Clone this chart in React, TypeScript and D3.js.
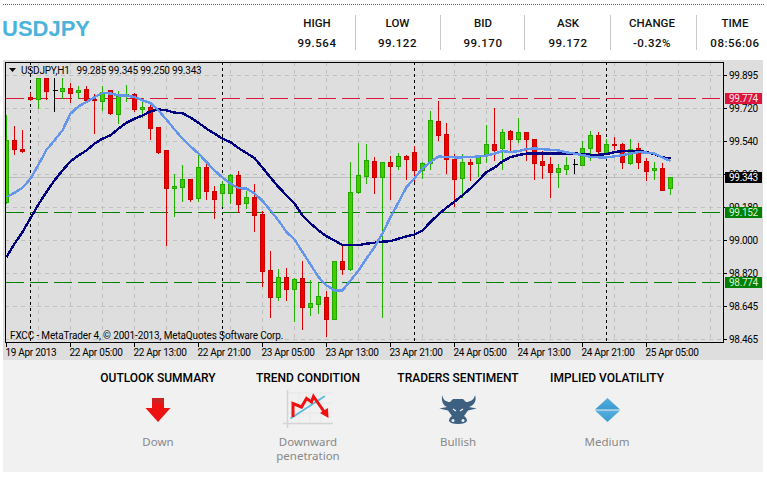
import React from "react";
import * as d3 from "d3";

const W = 767, H = 478;

const opens = [99.210,99.545,99.496,99.776,99.765,99.879,99.815,99.812,99.825,99.803,99.819,99.765,99.757,99.814,99.687,99.783,99.792,99.714,99.722,99.613,99.489,99.283,99.292,99.332,99.229,99.400,99.268,99.256,99.256,99.355,99.202,99.234,99.144,98.839,98.696,98.801,98.736,98.795,98.642,98.658,98.692,98.573,98.888,98.844,99.265,99.351,99.429,99.343,99.424,99.402,99.456,99.478,99.384,99.418,99.646,99.575,99.440,99.337,99.425,99.418,99.463,99.521,99.501,99.592,99.552,99.586,99.552,99.429,99.413,99.373,99.389,99.413,99.411,99.500,99.570,99.481,99.523,99.521,99.422,99.500,99.429,99.380,99.393,99.285];
const closes = [99.545,99.494,99.487,99.767,99.879,99.812,99.815,99.825,99.801,99.814,99.761,99.760,99.803,99.692,99.783,99.792,99.713,99.722,99.608,99.481,99.283,99.294,99.332,99.227,99.400,99.270,99.223,99.305,99.355,99.196,99.234,99.140,98.837,98.692,98.801,98.736,98.790,98.642,98.660,98.698,98.573,98.888,98.844,99.265,99.353,99.435,99.343,99.424,99.405,99.456,99.443,99.384,99.418,99.651,99.573,99.440,99.332,99.424,99.416,99.462,99.521,99.490,99.586,99.552,99.586,99.552,99.418,99.411,99.373,99.391,99.407,99.413,99.500,99.570,99.487,99.521,99.519,99.427,99.494,99.427,99.378,99.391,99.275,99.343];
const highs = [99.685,99.626,99.604,99.806,99.884,99.884,99.884,99.884,99.857,99.843,99.843,99.798,99.843,99.819,99.815,99.848,99.803,99.757,99.743,99.617,99.490,99.364,99.415,99.332,99.473,99.427,99.301,99.328,99.364,99.382,99.274,99.310,99.165,98.949,98.851,98.858,98.801,98.895,98.792,98.774,98.732,98.895,98.974,99.431,99.532,99.527,99.458,99.429,99.463,99.478,99.467,99.516,99.429,99.707,99.761,99.642,99.474,99.473,99.447,99.467,99.631,99.722,99.608,99.603,99.671,99.592,99.552,99.490,99.458,99.418,99.458,99.447,99.545,99.599,99.593,99.555,99.566,99.532,99.554,99.535,99.453,99.431,99.424,99.345];
const lows = [99.203,99.469,99.481,99.761,99.720,99.765,99.703,99.770,99.752,99.770,99.756,99.584,99.707,99.684,99.635,99.757,99.703,99.671,99.550,99.473,98.976,99.135,99.214,99.216,99.214,99.223,99.124,99.189,99.203,99.156,99.176,99.053,98.754,98.587,98.678,98.678,98.564,98.522,98.597,98.609,98.483,98.572,98.820,98.840,99.259,99.313,99.259,98.587,99.227,99.389,99.335,99.324,99.340,99.389,99.545,99.367,99.189,99.237,99.328,99.351,99.427,99.433,99.388,99.485,99.535,99.436,99.335,99.340,99.237,99.292,99.360,99.367,99.409,99.436,99.476,99.476,99.494,99.395,99.415,99.395,99.328,99.335,99.275,99.250];

const fastMA = [99.237,99.261,99.288,99.337,99.413,99.494,99.545,99.599,99.689,99.729,99.752,99.779,99.801,99.799,99.788,99.788,99.779,99.761,99.747,99.707,99.657,99.604,99.554,99.512,99.473,99.427,99.382,99.343,99.310,99.286,99.283,99.257,99.217,99.165,99.111,99.048,99.008,98.940,98.873,98.804,98.759,98.732,98.732,98.786,98.840,98.904,98.967,99.041,99.129,99.209,99.292,99.339,99.393,99.427,99.458,99.454,99.453,99.453,99.454,99.458,99.462,99.473,99.487,99.481,99.487,99.497,99.501,99.497,99.494,99.490,99.480,99.473,99.465,99.456,99.453,99.453,99.458,99.465,99.473,99.481,99.478,99.474,99.451,99.433];
const slowMA = [98.912,98.985,99.048,99.124,99.198,99.265,99.328,99.382,99.431,99.463,99.490,99.527,99.554,99.572,99.608,99.640,99.662,99.680,99.702,99.713,99.707,99.695,99.692,99.668,99.640,99.608,99.581,99.554,99.535,99.503,99.476,99.449,99.397,99.343,99.292,99.247,99.202,99.138,99.095,99.057,99.025,99.003,98.977,98.977,98.977,98.985,98.990,98.996,98.999,99.012,99.025,99.034,99.057,99.102,99.144,99.180,99.213,99.247,99.285,99.328,99.373,99.397,99.431,99.454,99.465,99.473,99.474,99.474,99.474,99.474,99.474,99.474,99.470,99.467,99.467,99.470,99.481,99.487,99.487,99.487,99.481,99.470,99.453,99.446];

const priceTicks = ["99.895","99.720","99.540","99.360","99.180","99.000","98.820","98.645","98.465"];
const timeLabels = ["19 Apr 2013","22 Apr 05:00","22 Apr 13:00","22 Apr 21:00","23 Apr 05:00","23 Apr 13:00","23 Apr 21:00","24 Apr 05:00","24 Apr 13:00","24 Apr 21:00","25 Apr 05:00"];
const dayBreaks = [3, 27, 51, 75];
const redLevels = [99.774];
const greenLevels = [99.152, 98.774];
const lastPrice = 99.343;
const stats = [
  ["HIGH", "99.564"], ["LOW", "99.122"], ["BID", "99.170"],
  ["ASK", "99.172"], ["CHANGE", "-0.32%"], ["TIME", "08:56:06"],
];
const statCenters = [317, 397.5, 483, 568, 652, 735];
const statDividers = [355, 440, 524, 610, 696];
const outlook = [
  { title: "OUTLOOK SUMMARY", sub: ["Down"], cx: 158 },
  { title: "TREND CONDITION", sub: ["Downward", "penetration"], cx: 308 },
  { title: "TRADERS SENTIMENT", sub: ["Bullish"], cx: 458 },
  { title: "IMPLIED VOLATILITY", sub: ["Medium"], cx: 607 },
];

const CHART = "Roboto, sans-serif";
const chartText = { fontFamily: CHART, fontSize: 10, letterSpacing: -0.3, fill: "#000" };
const FRAME = { l: 5, r: 723, t: 62, b: 342 };
const y = d3.scaleLinear().domain([98.465, 99.895]).range([339.7, 75.7]);
const x = d3.scaleLinear().domain([0, 83]).range([6.5, 670.5]);
const gy = (p: number) => Math.floor(y(p)) + 0.5;
const tickY = d3.scalePoint<string>().domain(priceTicks).range([75.5, 339.5]);

const candleColors = (o: number, c: number) =>
  c > o ? { fill: "#44CC00", stroke: "#22A800", wick: "#22B000" }
  : c < o ? { fill: "#F00000", stroke: "#C80000", wick: "#D80000" }
  : { fill: "#000", stroke: "#000", wick: "#000" };

function Tag({ price, bg, fg }: { price: number; bg: string; fg: string }) {
  const py = gy(price);
  return (
    <g>
      <rect x={725} y={py - 5.5} width={37} height={11} fill={bg} />
      <text x={729} y={py + 3.5} {...chartText} fill={fg}>{price.toFixed(3)}</text>
    </g>
  );
}

function Icons() {
  return (
    <g>
      <path d="M152 398H164V408H170.5L158 422L145.5 408H152Z" fill="#EE1111" />
      <path d="M152 398H164V403H152Z" fill="#CC2222" />

      <g stroke="#E6E6E6" strokeWidth={1} fill="none">
        <path d="M299 391V423M310 391V423M321 391V423M287 393H333M287 403H333M287 413H333" />
      </g>
      <path d="M283 423.5H333M287.5 390V428" stroke="#D4D4D4" strokeWidth={1.5} fill="none" />
      <path d="M290.5 418.5L325 396" stroke="#55BBDD" strokeWidth={1.5} fill="none" />
      <path d="M293 417L293 403.5L301.5 407L306.5 398.5L311.5 402L313.5 396.5L325 413" stroke="#EE1111" strokeWidth={3} fill="none" />
      <path d="M320 413L328 408L328.5 418Z" fill="#EE1111" />

      <path d="M442.3 395C443 400 446 402 450 402L453 399H463L466 402C470 402 474 400 475 395C477 401 474 405 469 407L476.7 408.5L468 410.5L464 416C466 417 467 419 467 421C466 423 463 424 458 424C453 424 450 423 449 421C449 419 450 417 452 416L448 410.5L439.3 408.5L447 407C443 405 441 401 442.3 395Z" fill="#3D5F80" />
      <path d="M453 409L456 411M463 409L460 411" stroke="#F1F1F1" strokeWidth={1.3} fill="none" />
      <circle cx={453} cy={420.5} r={1.5} fill="#F1F1F1" />
      <circle cx={463} cy={420.5} r={1.5} fill="#F1F1F1" />

      <defs>
        <linearGradient id="dia" x1="0" y1="0" x2="0" y2="1">
          <stop offset="0" stopColor="#55AEDD" />
          <stop offset="1" stopColor="#3A9CD0" />
        </linearGradient>
      </defs>
      <path d="M607.5 398L620 409.5H595Z" fill="url(#dia)" />
      <path d="M595 410.5H620L607.5 422Z" fill="url(#dia)" />
    </g>
  );
}

export default function App() {
  const line = d3.line<number>().x((_, i) => x(i)).y(d => y(d));
  const gridXs = d3.range(4, 89, 4).map(i => x(i));
  return (
    <svg width={W} height={H} style={{ position: "absolute", left: 0, top: 0, background: "#fff" }}>
      <defs>
        <clipPath id="plot">
          <rect x={FRAME.l + 1} y={FRAME.t + 1} width={FRAME.r - FRAME.l - 1} height={FRAME.b - FRAME.t - 1} />
        </clipPath>
      </defs>

      {/* header */}
      <line x1={3} x2={764} y1={4.5} y2={4.5} stroke="#666" strokeDasharray="1 1" />
      <text x={2} y={36} fontFamily="'Liberation Sans', sans-serif" fontWeight={700} fontSize={22} fill="#4DB3DA">USDJPY</text>
      {statDividers.map(d => <line key={d} x1={d + 0.5} x2={d + 0.5} y1={15} y2={50} stroke="#C8C8C8" />)}
      {stats.map(([k, v], i) => (
        <g key={k} fontFamily="Roboto, sans-serif" fontWeight={500} fontSize={11.5} fill="#111" textAnchor="middle">
          <text x={statCenters[i]} y={27}>{k}</text>
          <text x={statCenters[i]} y={47} letterSpacing={0.5}>{v}</text>
        </g>
      ))}

      {/* chart panel */}
      <rect x={3} y={60} width={760} height={300} fill="#DEDEDE" />

      <g clipPath="url(#plot)" shapeRendering="crispEdges">
        {gridXs.map(g => (
          <line key={g} x1={g} x2={g} y1={FRAME.t} y2={FRAME.b} stroke="#C0C0C0" strokeDasharray="4 4" />
        ))}
        {priceTicks.map(t => (
          <line key={t} x1={FRAME.l} x2={FRAME.r} y1={tickY(t)} y2={tickY(t)} stroke="#C0C0C0" strokeDasharray="4 4" />
        ))}
        <line x1={FRAME.l} x2={FRAME.r} y1={gy(lastPrice)} y2={gy(lastPrice)} stroke="#BEBEBE" />
        {dayBreaks.map(i => (
          <line key={i} x1={x(i)} x2={x(i)} y1={FRAME.t} y2={FRAME.b} stroke="#000" strokeDasharray="3 3" />
        ))}
        {redLevels.map(l => (
          <line key={l} x1={6} x2={720} y1={gy(l)} y2={gy(l)} stroke="#DC143C" strokeDasharray="18 6" />
        ))}
        {greenLevels.map(l => (
          <line key={l} x1={6} x2={720} y1={gy(l)} y2={gy(l)} stroke="#008000" strokeDasharray="18 6" />
        ))}
        {opens.map((o, i) => {
          const c = closes[i];
          const col = candleColors(o, c);
          const top = gy(Math.max(o, c));
          const bot = gy(Math.min(o, c));
          return (
            <g key={i}>
              <line x1={x(i)} x2={x(i)} y1={gy(highs[i])} y2={gy(lows[i])} stroke={col.wick} />
              {o === c
                ? <line x1={x(i) - 2} x2={x(i) + 3} y1={top} y2={top} stroke={col.stroke} />
                : <rect x={x(i) - 2} y={top} width={4} height={Math.max(bot - top, 1)} fill={col.fill} stroke={col.stroke} />}
            </g>
          );
        })}
      </g>
      <g clipPath="url(#plot)" fill="none" shapeRendering="crispEdges">
        <path d={line(slowMA) ?? ""} stroke="#000080" strokeWidth={2.4} />
        <path d={line(fastMA) ?? ""} stroke="#6495ED" strokeWidth={2.4} />
      </g>

      {/* frame */}
      <rect x={FRAME.l + 0.5} y={FRAME.t + 0.5} width={FRAME.r - FRAME.l} height={FRAME.b - FRAME.t} fill="none" stroke="#000" shapeRendering="crispEdges" />

      {/* chart captions */}
      <path d="M9 68H16L12.5 72Z" fill="#000" />
      <text x={21} y={74} {...chartText} letterSpacing={-0.2} style={{ whiteSpace: "pre" }}>{"USDJPY,H1   99.285 99.345 99.250 99.343"}</text>
      <text x={10} y={339} {...chartText} letterSpacing={-0.15}>FXCC - MetaTrader 4, © 2001-2013, MetaQuotes Software Corp.</text>

      {/* price axis */}
      {priceTicks.map(t => (
        <g key={t}>
          <line x1={FRAME.r} x2={FRAME.r + 4} y1={tickY(t)} y2={tickY(t)} stroke="#000" shapeRendering="crispEdges" />
          <text x={729} y={(tickY(t) ?? 0) + 3.5} {...chartText}>{t}</text>
        </g>
      ))}
      {redLevels.map(l => <Tag key={l} price={l} bg="#DC143C" fg="#FBE4E8" />)}
      <Tag price={lastPrice} bg="#000" fg="#fff" />
      {greenLevels.map(l => <Tag key={l} price={l} bg="#008000" fg="#D8F4D8" />)}

      {/* time axis */}
      {timeLabels.map((t, i) => {
        const tx = x(i * 8);
        return (
          <g key={t}>
            <line x1={tx} x2={tx} y1={FRAME.b} y2={FRAME.b + 5} stroke="#000" shapeRendering="crispEdges" />
            <text x={tx - 1} y={356} {...chartText}>{t}</text>
          </g>
        );
      })}

      {/* outlook panel */}
      <rect x={3} y={360} width={760} height={112} fill="#F1F1F1" />
      {outlook.map(o => (
        <g key={o.title} textAnchor="middle">
          <text x={o.cx} y={382} fontSize={12} fontWeight={500} fontFamily="Roboto, sans-serif" fill="#000">{o.title}</text>
          {o.sub.map((s, i) => (
            <text key={s} x={o.cx} y={446 + i * 14} fontSize={11.5} fontFamily="'Noto Sans', sans-serif" fill="#888">{s}</text>
          ))}
        </g>
      ))}
      <Icons />
    </svg>
  );
}
